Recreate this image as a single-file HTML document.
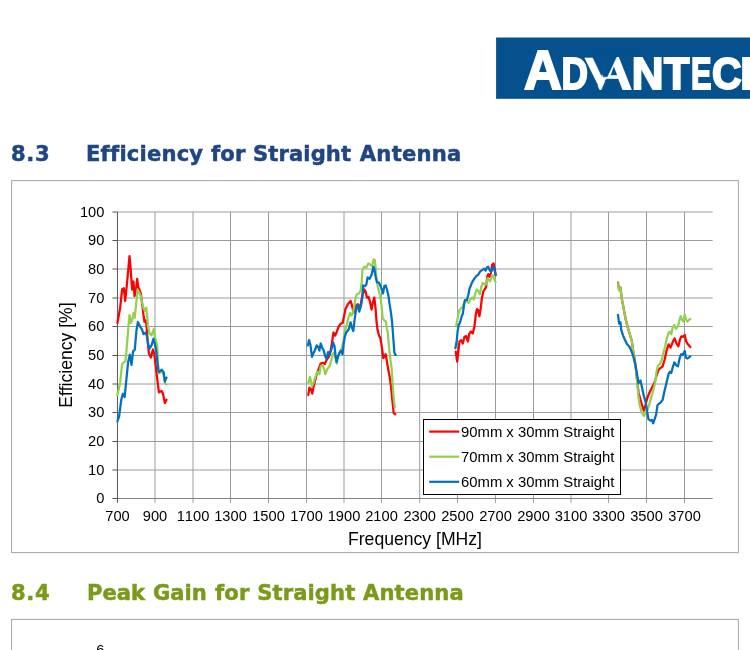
<!DOCTYPE html>
<html lang="en">
<head>
<meta charset="utf-8">
<title>Efficiency for Straight Antenna</title>
<style>
html,body{margin:0;padding:0;background:#fff;}
body{width:750px;height:650px;position:relative;overflow:hidden;font-family:"Liberation Sans",sans-serif;}
.logo{position:absolute;left:496px;top:37.4px;width:254px;height:62px;overflow:hidden;z-index:2;margin:0;font-size:0;line-height:0;white-space:nowrap;}
.logo .lm{position:absolute;left:0;top:0;}
.logo span{position:relative;display:inline-block;vertical-align:top;width:0;height:0;white-space:nowrap;color:#fff;font-family:"Liberation Sans",sans-serif;font-weight:bold;line-height:1;transform-origin:0 0;-webkit-text-stroke:2px #fff;}
.h{position:absolute;left:11px;margin:0;white-space:nowrap;font-family:"DejaVu Sans","Liberation Sans",sans-serif;font-weight:bold;font-size:21.1px;line-height:24px;-webkit-text-stroke:0.5px currentColor;}
.h span{display:inline;}
.h b{letter-spacing:0.6px;}
.h1{top:141.5px;color:#1f4682;}
.h2{top:581.2px;color:#7b9a1a;}
svg text{font-family:"Liberation Sans",sans-serif;fill:#000;}
.tk{font-size:14.67px;font-kerning:none;}
.ax{font-size:17.6px;}
.lg{font-size:14.85px;}
</style>
</head>
<body>
<div class="logo"><span style="z-index:1;font-size:55.09px;transform:translate(27.95px,5.67px) scaleX(0.950)">A</span><span style="z-index:1;font-size:44.48px;transform:translate(65.57px,15.05px) scaleX(0.823)">D</span><span style="z-index:1;-webkit-text-stroke-width:4.6px;font-size:40.70px;transform:translate(92.60px,17.25px) scaleX(1.334)">V</span><span style="z-index:3;font-size:44.48px;transform:translate(100.18px,15.05px) scaleX(1.099)">A</span><span style="z-index:5;font-size:44.48px;transform:translate(135.65px,15.05px) scaleX(0.988)">N</span><span style="z-index:5;font-size:44.48px;transform:translate(167.97px,15.05px) scaleX(0.936)">T</span><span style="z-index:5;font-size:44.48px;transform:translate(195.04px,15.05px) scaleX(0.690)">E</span><span style="z-index:5;font-size:44.07px;transform:translate(215.95px,15.27px) scaleX(0.928)">C</span><span style="z-index:5;font-size:44.48px;transform:translate(244.28px,15.05px) scaleX(0.970)">H</span><svg class="lm" style="z-index:2" width="254" height="62" viewBox="0 0 254 62" aria-hidden="true"><polygon points="95.7,18.1 138.0,18.1 138.0,54.6 103.4,54.6 108.4,44.7" fill="#04518d" stroke="#04518d" stroke-width="0.5"/></svg><svg class="lm" style="z-index:4" width="254" height="62" viewBox="0 0 254 62" aria-hidden="true"><polygon points="97.0,18.1 121.4,18.1 111.2,39.8 107.4,39.8" fill="#04518d" stroke="#04518d" stroke-width="0.5"/></svg><svg class="lm" style="z-index:4" width="254" height="62" viewBox="0 0 254 62" aria-hidden="true"><polygon points="97.0,46.6 100.4,46.6 103.7,53.8 103.7,54.6 97.0,54.6" fill="#04518d" stroke="#04518d" stroke-width="0.5"/></svg><svg class="lm" style="z-index:4" width="254" height="62" viewBox="0 0 254 62" aria-hidden="true"><polygon points="109.4,43.0 110.9,42.1 122.2,42.1 123.2,45.6 113.8,45.6 113.8,54.6 104.9,54.6 109.0,45.0" fill="#04518d" stroke="#04518d" stroke-width="0.5"/></svg></div>
<h2 class="h h1"><b>8.3</b> <span style="margin-left:28.50px;letter-spacing:0.2px">Efficiency</span> <span style="margin-left:0.24px;letter-spacing:0.2px">for</span> <span style="margin-left:0.09px;letter-spacing:0.1px">Straight</span> <span style="margin-left:1.31px;letter-spacing:0.25px">Antenna</span></h2>
<svg width="750" height="650" viewBox="0 0 750 650" style="position:absolute;left:0;top:0">
<rect x="496.1" y="37.5" width="260" height="61.3" fill="#04518d"/>
<defs><filter id="soft" x="-2%" y="-2%" width="104%" height="104%" color-interpolation-filters="sRGB"><feGaussianBlur stdDeviation="0.35"/></filter></defs><g filter="url(#soft)">
<rect x="11.6" y="180.6" width="726.8" height="372" fill="#fff" stroke="#a6a6a6" stroke-width="1"/>
<rect x="11.6" y="619.4" width="726.8" height="60" fill="#fff" stroke="#a6a6a6" stroke-width="1"/>
<path d="M117.4 470.00H712.7 M117.4 441.50H712.7 M117.4 412.50H712.7 M117.4 384.00H712.7 M117.4 355.50H712.7 M117.4 326.50H712.7 M117.4 298.00H712.7 M117.4 269.00H712.7 M117.4 240.50H712.7 M117.4 212.00H712.7 M155.00 212.0V502.8 M193.00 212.0V502.8 M230.50 212.0V502.8 M268.50 212.0V502.8 M306.50 212.0V502.8 M344.00 212.0V502.8 M381.50 212.0V502.8 M419.70 212.0V502.8 M457.50 212.0V502.8 M495.50 212.0V502.8 M533.50 212.0V502.8 M571.00 212.0V502.8 M608.50 212.0V502.8 M646.50 212.0V502.8 M684.50 212.0V502.8" stroke="#9c9c9c" stroke-width="1" fill="none"/>
<path d="M117.4 498.50H712.7" stroke="#828282" stroke-width="1" fill="none"/>
<path d="M117.45 212.0V502.8 M112.4 498.50H117.4 M112.4 470.00H117.4 M112.4 441.50H117.4 M112.4 412.50H117.4 M112.4 384.00H117.4 M112.4 355.50H117.4 M112.4 326.50H117.4 M112.4 298.00H117.4 M112.4 269.00H117.4 M112.4 240.50H117.4 M112.4 212.00H117.4" stroke="#555" stroke-width="1" fill="none"/>
<polyline points="117.4,323.0 120.1,308.3 122.1,289.5 123.8,288.2 125.2,300.9 126.8,285.5 129.5,256.1 130.5,266.8 132.1,289.5 133.5,281.5 134.5,296.2 135.6,293.5 137.2,278.8 138.2,286.9 139.5,289.5 140.8,293.5 142.2,304.3 143.5,315.0 144.4,321.7 145.5,320.3 146.4,324.0 147.5,340.1 148.9,353.5 150.9,357.5 152.9,349.5 154.2,353.5 155.2,361.5 156.9,376.2 158.9,392.3 161.6,391.0 162.9,393.6 164.9,403.0 166.5,399.7" fill="none" stroke="#ff0000" stroke-width="2.25" stroke-linejoin="round" stroke-linecap="round"/>
<polyline points="117.4,395.0 120.1,382.9 122.1,364.2 123.8,362.2 125.4,361.5 126.8,346.8 128.4,326.7 129.5,315.0 130.8,323.0 132.1,320.3 133.5,313.0 134.8,317.6 136.1,304.3 137.5,289.5 139.1,292.2 140.8,296.2 142.2,302.9 143.5,308.3 144.8,311.0 146.2,307.6 147.1,315.0 147.9,325.7 149.5,333.4 151.5,335.4 154.0,328.7 154.9,337.4 156.2,341.4 157.3,346.8 158.6,373.5 160.2,372.5 161.8,371.5 163.6,374.0 164.9,383.0 166.5,384.5" fill="none" stroke="#92d050" stroke-width="2.25" stroke-linejoin="round" stroke-linecap="round"/>
<polyline points="117.4,421.5 119.1,416.4 121.3,399.5 123.0,393.6 124.7,397.0 126.4,379.2 128.1,362.3 129.8,354.7 131.5,364.8 133.1,351.3 134.8,349.6 136.5,330.2 137.9,322.0 140.2,326.7 142.2,330.0 143.5,334.1 145.5,332.7 146.9,336.1 148.2,344.1 149.5,348.8 151.5,345.4 153.5,338.7 154.9,344.1 156.2,350.8 157.3,361.5 158.6,372.2 160.2,370.9 161.8,369.8 163.6,372.2 164.9,381.6 166.5,377.6" fill="none" stroke="#0070c0" stroke-width="2.25" stroke-linejoin="round" stroke-linecap="round"/>
<polyline points="308.3,394.9 309.4,387.6 310.8,388.9 312.3,393.6 313.4,387.6 314.7,382.2 316.7,374.2 318.7,368.8 320.7,363.5 322.8,362.8 324.8,364.1 326.8,359.5 328.8,356.8 330.8,350.1 332.1,342.0 333.5,332.5 335.1,335.7 336.8,331.7 338.8,326.3 340.8,323.6 342.6,323.0 344.2,315.6 345.5,308.9 347.5,304.9 348.9,302.9 350.6,300.9 352.2,306.2 353.5,312.9 354.9,308.9 356.2,305.6 357.8,304.2 359.6,307.6 360.9,303.5 362.6,294.2 364.3,289.5 365.6,291.5 366.9,297.5 368.5,296.9 369.9,301.5 371.6,309.6 373.0,302.2 374.3,297.5 375.6,308.9 376.6,322.3 377.6,330.3 379.0,335.4 380.3,338.0 381.7,346.1 383.3,358.1 385.7,354.1 387.0,362.1 388.4,370.2 389.7,376.9 391.0,386.2 392.4,401.0 393.7,413.0 395.3,414.3" fill="none" stroke="#ff0000" stroke-width="2.25" stroke-linejoin="round" stroke-linecap="round"/>
<polyline points="308.3,382.9 310.0,376.9 312.0,386.2 313.4,383.5 315.4,376.9 317.4,371.5 319.4,374.2 320.7,366.1 322.8,365.5 324.1,368.8 325.4,374.2 327.4,368.8 329.5,366.1 331.5,359.5 332.8,354.1 334.1,352.8 335.5,358.1 336.8,363.5 338.2,356.8 340.2,351.4 342.2,347.4 343.5,340.7 344.8,330.8 346.9,325.0 348.2,318.3 350.2,312.9 351.5,315.6 352.9,312.9 354.2,306.2 355.6,298.2 356.9,294.2 358.9,293.5 360.5,290.8 361.6,283.5 362.4,270.1 364.3,266.7 366.3,267.4 368.3,263.4 370.3,264.7 372.0,266.1 373.6,259.4 374.7,260.0 375.6,267.4 376.6,279.5 377.9,287.5 379.3,292.8 380.6,298.2 381.7,307.6 382.7,318.3 384.3,320.3 385.9,321.6 387.0,329.0 387.9,333.5 389.0,347.4 390.4,359.5 391.7,368.8 392.6,383.5 393.7,398.3 394.8,407.6" fill="none" stroke="#92d050" stroke-width="2.25" stroke-linejoin="round" stroke-linecap="round"/>
<polyline points="307.8,345.4 309.1,340.0 310.4,344.7 312.0,356.8 313.4,353.4 315.0,350.1 316.7,345.4 318.1,346.7 319.4,350.7 320.7,343.4 322.1,347.4 323.8,350.7 325.2,356.1 326.5,358.8 328.1,352.1 329.7,354.8 331.5,348.7 333.2,342.7 334.5,346.1 335.5,355.4 336.5,362.1 337.8,356.8 339.5,352.8 340.8,350.7 342.6,354.1 343.5,344.7 344.8,336.7 346.2,332.5 348.9,329.0 350.6,322.3 351.9,327.6 353.3,331.0 354.6,319.6 356.2,308.9 357.8,304.9 359.2,311.6 360.9,306.2 362.2,298.2 363.2,285.5 364.9,286.1 366.3,284.8 367.6,277.4 369.6,278.8 371.6,274.8 373.4,266.7 374.3,268.7 375.6,276.8 377.0,282.1 379.0,282.8 380.6,286.1 381.9,290.2 383.0,293.5 384.3,286.1 385.7,285.5 387.0,289.5 388.4,295.5 389.7,304.9 391.0,312.9 392.1,322.3 392.8,331.5 393.7,343.4 394.4,352.8 395.7,354.8" fill="none" stroke="#0070c0" stroke-width="2.25" stroke-linejoin="round" stroke-linecap="round"/>
<polyline points="455.7,351.5 457.2,361.6 458.4,350.9 459.5,341.5 461.1,340.2 462.8,343.5 464.5,336.8 466.1,336.1 467.8,341.5 469.2,334.1 470.8,331.5 472.8,333.5 474.4,326.8 475.8,314.7 476.9,309.2 478.1,310.2 479.4,316.2 480.7,308.5 481.9,298.2 483.3,291.5 484.6,289.5 486.0,287.5 487.3,276.8 488.2,274.1 489.6,276.8 490.9,272.8 492.2,264.7 493.6,263.4 494.7,268.7 495.6,275.4" fill="none" stroke="#ff0000" stroke-width="2.25" stroke-linejoin="round" stroke-linecap="round"/>
<polyline points="456.1,326.3 457.4,319.6 458.8,311.6 460.8,308.2 462.8,306.9 464.8,300.2 466.8,300.9 468.6,302.9 470.2,299.5 472.2,297.5 473.9,299.5 475.5,292.8 476.9,289.5 478.5,291.5 479.8,294.2 481.5,286.1 482.9,282.8 484.9,284.8 486.5,284.1 487.6,278.1 488.9,280.1 490.2,281.5 491.6,276.8 492.9,275.4 494.3,279.5 495.6,282.1" fill="none" stroke="#92d050" stroke-width="2.25" stroke-linejoin="round" stroke-linecap="round"/>
<polyline points="455.4,348.2 456.8,340.2 457.6,331.0 458.8,325.0 460.1,322.3 461.5,316.9 462.8,313.8 464.1,304.5 465.1,300.1 466.8,300.2 468.2,295.5 469.5,288.8 470.8,285.5 472.2,282.1 474.2,278.8 476.2,276.1 478.2,274.8 480.2,271.4 482.2,270.1 484.2,268.7 485.6,270.7 486.9,267.4 488.2,266.7 489.6,270.1 490.9,271.4 492.2,270.1 493.6,266.7 494.7,270.1 495.6,274.8" fill="none" stroke="#0070c0" stroke-width="2.25" stroke-linejoin="round" stroke-linecap="round"/>
<polyline points="618.0,282.6 619.1,290.1 620.4,287.4 621.7,298.1 623.7,308.8 625.7,319.5 627.8,327.6 629.8,334.3 631.8,340.9 633.1,350.4 634.5,358.4 635.8,367.8 637.2,381.1 638.6,393.0 640.5,399.9 642.2,405.5 643.8,410.6 645.5,405.0 647.3,398.0 649.3,393.0 651.2,389.2 654.5,382.5 656.8,375.0 658.5,369.8 660.5,368.0 662.6,366.4 664.6,359.7 666.6,350.5 668.6,344.3 670.6,347.6 672.6,342.3 674.6,338.3 676.6,343.6 678.4,346.3 680.0,339.6 681.3,336.3 682.9,336.9 684.7,334.9 686.0,341.0 687.3,343.6 688.7,345.0 690.3,347.0" fill="none" stroke="#ff0000" stroke-width="2.25" stroke-linejoin="round" stroke-linecap="round"/>
<polyline points="618.0,283.4 619.1,290.1 620.4,287.4 621.7,298.1 623.7,308.8 625.7,319.5 627.8,327.6 629.8,334.3 631.8,340.9 633.1,350.4 634.5,358.4 635.8,367.8 637.1,381.1 638.2,394.5 639.5,403.9 641.1,410.6 642.8,414.6 644.1,415.9 645.8,411.9 647.8,409.3 649.8,402.6 651.6,395.9 653.2,390.5 655.2,382.5 656.5,371.8 657.9,365.7 659.9,363.7 661.9,359.7 663.2,353.5 665.2,346.3 666.8,338.3 668.6,332.9 669.9,331.6 671.3,334.3 672.6,327.6 674.3,324.9 676.0,328.9 678.0,326.2 679.3,320.9 680.6,316.2 682.0,319.5 683.3,321.5 684.7,314.8 686.0,319.5 687.3,321.5 688.7,320.2 690.3,318.9" fill="none" stroke="#92d050" stroke-width="2.25" stroke-linejoin="round" stroke-linecap="round"/>
<polyline points="618.0,314.8 619.1,323.5 620.4,322.2 621.3,330.2 623.1,335.6 625.1,340.3 627.1,344.3 629.1,346.3 631.1,350.3 633.1,355.7 635.5,365.1 637.1,374.5 638.5,383.2 640.5,380.5 641.8,386.5 643.8,395.9 645.8,402.6 647.2,411.9 648.5,419.3 650.5,420.6 651.9,420.0 653.2,423.3 654.8,418.6 656.1,414.6 657.5,405.2 658.8,403.9 660.6,402.6 662.6,399.9 664.6,390.5 666.6,382.5 668.6,373.8 669.9,371.8 671.3,373.1 672.6,367.8 674.3,362.4 676.0,365.1 678.0,366.4 679.3,359.7 680.9,354.4 682.7,355.0 684.7,351.0 686.0,357.7 687.3,358.4 688.7,357.7 690.3,356.4" fill="none" stroke="#0070c0" stroke-width="2.25" stroke-linejoin="round" stroke-linecap="round"/>
<rect x="423.5" y="419.5" width="197" height="75" fill="#fff" stroke="#000" stroke-width="1"/>
<path d="M429.2 431.6H459.2" stroke="#ff0000" stroke-width="2.2"/>
<text x="461" y="436.8" class="lg">90mm x 30mm Straight</text>
<path d="M429.2 456.7H459.2" stroke="#92d050" stroke-width="2.2"/>
<text x="461" y="461.9" class="lg">70mm x 30mm Straight</text>
<path d="M429.2 481.8H459.2" stroke="#0070c0" stroke-width="2.2"/>
<text x="461" y="487.0" class="lg">60mm x 30mm Straight</text>
<text x="104.4" y="503.3" class="tk" text-anchor="end">0</text>
<text x="104.4" y="474.8" class="tk" text-anchor="end">10</text>
<text x="104.4" y="446.3" class="tk" text-anchor="end">20</text>
<text x="104.4" y="417.3" class="tk" text-anchor="end">30</text>
<text x="104.4" y="388.8" class="tk" text-anchor="end">40</text>
<text x="104.4" y="360.3" class="tk" text-anchor="end">50</text>
<text x="104.4" y="331.3" class="tk" text-anchor="end">60</text>
<text x="104.4" y="302.8" class="tk" text-anchor="end">70</text>
<text x="104.4" y="273.8" class="tk" text-anchor="end">80</text>
<text x="104.4" y="245.3" class="tk" text-anchor="end">90</text>
<text x="104.4" y="216.8" class="tk" text-anchor="end">100</text>
<text x="117.5" y="521.2" class="tk" text-anchor="middle">700</text>
<text x="155.0" y="521.2" class="tk" text-anchor="middle">900</text>
<text x="193.0" y="521.2" class="tk" text-anchor="middle">1100</text>
<text x="230.5" y="521.2" class="tk" text-anchor="middle">1300</text>
<text x="268.5" y="521.2" class="tk" text-anchor="middle">1500</text>
<text x="306.5" y="521.2" class="tk" text-anchor="middle">1700</text>
<text x="344.0" y="521.2" class="tk" text-anchor="middle">1900</text>
<text x="381.5" y="521.2" class="tk" text-anchor="middle">2100</text>
<text x="419.7" y="521.2" class="tk" text-anchor="middle">2300</text>
<text x="457.5" y="521.2" class="tk" text-anchor="middle">2500</text>
<text x="495.5" y="521.2" class="tk" text-anchor="middle">2700</text>
<text x="533.5" y="521.2" class="tk" text-anchor="middle">2900</text>
<text x="571.0" y="521.2" class="tk" text-anchor="middle">3100</text>
<text x="608.5" y="521.2" class="tk" text-anchor="middle">3300</text>
<text x="646.5" y="521.2" class="tk" text-anchor="middle">3500</text>
<text x="684.5" y="521.2" class="tk" text-anchor="middle">3700</text>
<text x="415" y="544.9" class="ax" text-anchor="middle">Frequency [MHz]</text>
<text transform="translate(72.2,355) rotate(-90)" class="ax" text-anchor="middle">Efficiency [%]</text>
<text x="104.4" y="654.9" class="tk" text-anchor="end">6</text>
</g>
</svg>
<h2 class="h h2"><b>8.4</b> <span style="margin-left:29.50px;letter-spacing:0.0px">Peak</span> <span style="margin-left:0.64px;letter-spacing:0.0px">Gain</span> <span style="margin-left:0.77px;letter-spacing:0.2px">for</span> <span style="margin-left:0.29px;letter-spacing:0.1px">Straight</span> <span style="margin-left:0.31px;letter-spacing:0.1px">Antenna</span></h2>
</body>
</html>
